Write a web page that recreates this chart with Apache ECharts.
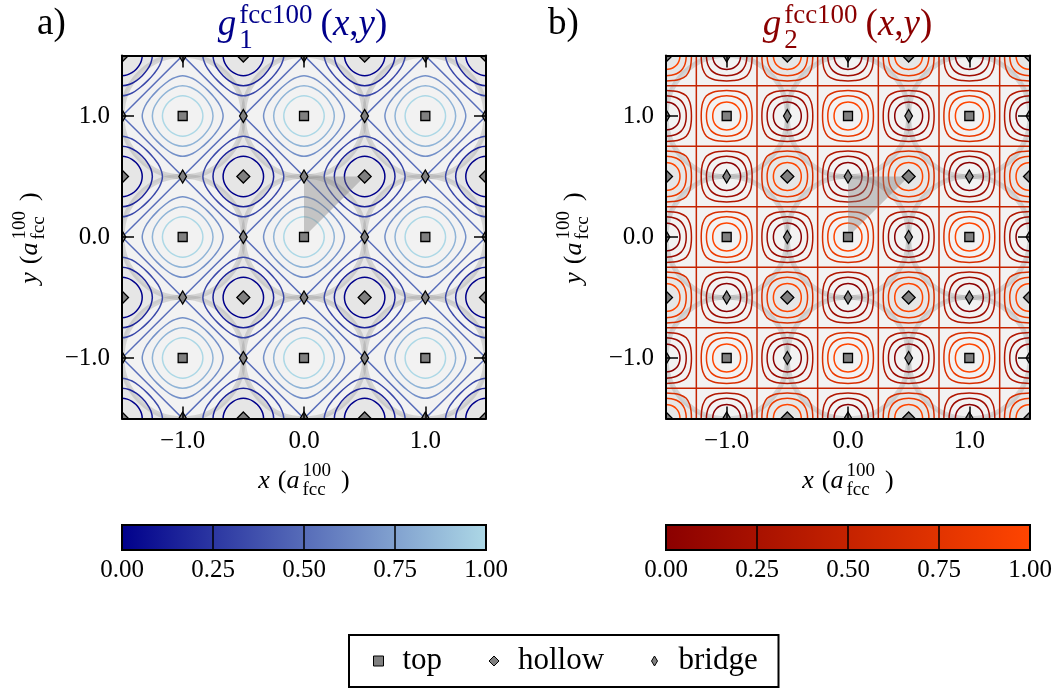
<!DOCTYPE html>
<html><head><meta charset="utf-8">
<script src="https://cdn.jsdelivr.net/npm/echarts@6/dist/echarts.min.js"></script>
<style>html,body{margin:0;padding:0;background:#fff}#c{width:1062px;height:693px}</style>
</head><body><div id="c"></div><script>
// ---------------- data ----------------
const axisRange = [-1.5, 1.5];
const tickValues = [-1, 0, 1];
const tickLabels = ['\u22121.0', '0.0', '1.0'];
const siteWhole = [-1, 0, 1];
const siteHalf = [-1.5, -0.5, 0.5, 1.5];
const wedge = [[0, 0], [0, 0.5], [0.5, 0.5]];
const basinRadius = 0.5;
const levelsLow = [0.125, 0.25, 0.375];
const levelsHigh = [0.875, 0.75, 0.625];
const levelMid = 0.5;
const levelRange = [0.125, 0.875];
const loopAngles = [0, 15, 30, 45];
const radiiA1 = [0.1667, 0.1657, 0.1637, 0.1627];
const radiiA2 = [0.2500, 0.2458, 0.2387, 0.2357];
const radiiA3 = [0.3333, 0.3207, 0.3033, 0.2967];
const radiiB1 = [0.1150, 0.1157, 0.1171, 0.1179];
const radiiB2 = [0.1667, 0.1689, 0.1739, 0.1768];
const radiiB3 = [0.2098, 0.2144, 0.2268, 0.2357];
const diagOffsets = [-2.5, -1.5, -0.5, 0.5, 1.5, 2.5];
const gridOffsets = [-1.25, -0.75, -0.25, 0.25, 0.75, 1.25];
const cmapA = ['#00008b', '#add8e6'];
const cmapB = ['#8b0000', '#ff4500'];
const cbTicks = [0, 0.25, 0.5, 0.75, 1];
const cbLines = [0.25, 0.5, 0.75];
const legendNames = ['top', 'hollow', 'bridge'];

// ---------------- helpers ----------------
const SERIF = 'Liberation Serif';
function hexToRgb(h) { return [1, 3, 5].map(i => parseInt(h.slice(i, i + 2), 16)); }
function mix(cmap, t) {
  const a = hexToRgb(cmap[0]), b = hexToRgb(cmap[1]);
  return 'rgb(' + a.map((v, i) => Math.round(v + (b[i] - v) * t)).join(',') + ')';
}
function levelColor(cmap, lev) { return mix(cmap, (lev - levelRange[0]) / (levelRange[1] - levelRange[0])); }
function product(xs, ys) { const o = []; xs.forEach(x => ys.forEach(y => o.push([x, y]))); return o; }
const topSites = product(siteWhole, siteWhole);
const hollowSites = product(siteHalf, siteHalf);
const bridgeSites = product(siteWhole, siteHalf).concat(product(siteHalf, siteWhole));
function loopItems(sites, levels) {
  const o = []; sites.forEach(s => levels.forEach((lev, k) => o.push([s[0], s[1], k, lev]))); return o;
}
const loopsA = loopItems(topSites, levelsHigh).concat(loopItems(hollowSites, levelsLow));
const loopsB = loopItems(topSites.concat(hollowSites), levelsHigh).concat(loopItems(bridgeSites, levelsLow));
const diagItems = diagOffsets.map(c => [c, 0]).concat(diagOffsets.map(c => [c, 1]));
const gridItems = gridOffsets.map(c => [c, 0]).concat(gridOffsets.map(c => [c, 1]));

function makeLoopRender(radiiSet, cmap) {
  return function (params, api) {
    const cx = api.value(0), cy = api.value(1), k = api.value(2), lev = api.value(3);
    const radii = radiiSet[k], n = loopAngles.length, pts = [];
    for (let q = 0; q < 8; q++) {
      for (let i = 0; i < n - 1; i++) {
        const j = q % 2 === 0 ? i : n - 1 - i;
        const ang = q * 45 + (q % 2 === 0 ? loopAngles[j] : 45 - loopAngles[j]);
        const t = ang * Math.PI / 180, r = radii[j];
        pts.push(api.coord([cx + r * Math.cos(t), cy + r * Math.sin(t)]));
      }
    }
    return { type: 'polygon', shape: { points: pts, smooth: 0.34 },
      style: { fill: 'none', stroke: levelColor(cmap, lev), lineWidth: 1.5 } };
  };
}
function diagRender(cmap) {
  return function (params, api) {
    const c = api.value(0), d = api.value(1);
    const p1 = d === 0 ? api.coord([-3, c + 3]) : api.coord([-3, -3 - c]);
    const p2 = d === 0 ? api.coord([3, c - 3]) : api.coord([3, 3 - c]);
    return { type: 'line', shape: { x1: p1[0], y1: p1[1], x2: p2[0], y2: p2[1] },
      style: { stroke: levelColor(cmap, levelMid), lineWidth: 1.5 } };
  };
}
function gridRender(cmap) {
  return function (params, api) {
    const c = api.value(0), d = api.value(1);
    const p1 = d === 0 ? api.coord([c, -3]) : api.coord([-3, c]);
    const p2 = d === 0 ? api.coord([c, 3]) : api.coord([3, c]);
    return { type: 'line', shape: { x1: p1[0], y1: p1[1], x2: p2[0], y2: p2[1] },
      style: { stroke: levelColor(cmap, levelMid), lineWidth: 1.5 } };
  };
}
const markerStyle = { fill: '#808080', stroke: '#000', lineWidth: 1.3 };
function markerRender(kind) {
  return function (params, api) {
    const p = api.coord([api.value(0), api.value(1)]);
    if (kind === 'top') return { type: 'rect', shape: { x: p[0] - 4.5, y: p[1] - 4.5, width: 9, height: 9 }, style: markerStyle };
    const hw = kind === 'hollow' ? 6.5 : 3.8, hh = 6.5;
    return { type: 'polygon', shape: { points: [[p[0], p[1] - hh], [p[0] + hw, p[1]], [p[0], p[1] + hh], [p[0] - hw, p[1]]] }, style: markerStyle };
  };
}

function panelSeries(ax, loops, radiiSet, cmap, lineItems, lineRender) {
  const base = { type: 'custom', xAxisIndex: ax, yAxisIndex: ax, clip: true, silent: true, animation: false };
  return [
    Object.assign({}, base, { data: [[axisRange[0], axisRange[1]]], renderItem: (p, api) => {
      const a = api.coord([axisRange[0], axisRange[1]]), b = api.coord([axisRange[1], axisRange[0]]);
      return { type: 'rect', shape: { x: a[0], y: a[1], width: b[0] - a[0], height: b[1] - a[1] }, style: { fill: '#e6e6e6' } };
    } }),
    Object.assign({}, base, { data: topSites, renderItem: (p, api) => {
      const c = api.coord([api.value(0), api.value(1)]), r = api.size([basinRadius, 0])[0];
      return { type: 'circle', shape: { cx: c[0], cy: c[1], r: r }, style: { fill: '#f2f2f2' } };
    } }),
    Object.assign({}, base, { data: topSites, renderItem: (p, api) => {
      const c = api.coord([api.value(0), api.value(1)]), r = api.size([basinRadius, 0])[0];
      return { type: 'circle', shape: { cx: c[0], cy: c[1], r: r }, style: { fill: 'none', stroke: 'rgba(150,150,150,0.32)', lineWidth: 5 } };
    } }),
    Object.assign({}, base, { data: lineItems, renderItem: lineRender(cmap) }),
    Object.assign({}, base, { data: loops, renderItem: makeLoopRender(radiiSet, cmap) }),
    Object.assign({}, base, { data: [wedge.flat()], renderItem: (p, api) => {
      const pts = [0, 1, 2].map(i => api.coord([api.value(2 * i), api.value(2 * i + 1)]));
      return { type: 'polygon', shape: { points: pts }, style: { fill: 'rgba(128,128,128,0.4)' } };
    } }),
    Object.assign({}, base, { name: 'top', data: topSites, renderItem: markerRender('top'), itemStyle: { color: '#808080' } }),
    Object.assign({}, base, { name: 'hollow', data: hollowSites, renderItem: markerRender('hollow'), itemStyle: { color: '#808080' } }),
    Object.assign({}, base, { name: 'bridge', data: bridgeSites, renderItem: markerRender('bridge'), itemStyle: { color: '#808080' } })
  ];
}
function colorbarSeries(ax, cmap) {
  const base = { type: 'custom', xAxisIndex: ax, yAxisIndex: ax, silent: true, animation: false };
  return [
    Object.assign({}, base, { data: [[cbTicks[0], 1]], renderItem: (p, api) => {
      const a = api.coord([cbTicks[0], 1]), b = api.coord([cbTicks[cbTicks.length - 1], 0]);
      return { type: 'rect', shape: { x: a[0], y: a[1], width: b[0] - a[0], height: b[1] - a[1] },
        style: { fill: new echarts.graphic.LinearGradient(0, 0, 1, 0, [{ offset: 0, color: cmap[0] }, { offset: 1, color: cmap[1] }]), stroke: '#000', lineWidth: 2 } };
    } }),
    Object.assign({}, base, { data: cbLines.map(v => [v, 0]), renderItem: (p, api) => {
      const a = api.coord([api.value(0), 0]), b = api.coord([api.value(0), 1]);
      return { type: 'line', shape: { x1: a[0], y1: a[1], x2: b[0], y2: b[1] }, style: { stroke: '#000', lineWidth: 1.5 } };
    } })
  ];
}

// ---------------- axes ----------------
const tickFmt = v => { const i = tickValues.indexOf(v); return i >= 0 ? tickLabels[i] : ''; };
function plotAxis(kind, gridIndex, position, labels) {
  return {
    type: 'value', gridIndex, position, min: axisRange[0], max: axisRange[1], z: 20,
    axisLine: { show: true, onZero: false, lineStyle: { color: '#000', width: 2 } },
    axisTick: { show: true, inside: true, length: 12, customValues: tickValues, lineStyle: { color: '#000', width: 1.5 } },
    axisLabel: { show: labels, customValues: tickValues, formatter: tickFmt, fontFamily: SERIF, fontSize: 25, color: '#000', margin: kind === 'x' ? 10 : 12 },
    splitLine: { show: false }
  };
}
function cbAxisX(gridIndex) {
  return { type: 'value', gridIndex, min: cbTicks[0], max: cbTicks[cbTicks.length - 1], interval: 0.25,
    axisLine: { show: false }, axisTick: { show: false }, splitLine: { show: false },
    axisLabel: { formatter: v => v.toFixed(2), fontFamily: SERIF, fontSize: 25, color: '#000', margin: 8 } };
}
function cbAxisY(gridIndex) { return { type: 'value', gridIndex, min: 0, max: 1, show: false }; }

// ---------------- math-style text ----------------
const mctx = document.createElement('canvas').getContext('2d');
function tw(t, size, it) { mctx.font = (it ? 'italic ' : '') + size + 'px "' + SERIF + '"'; return mctx.measureText(t).width; }
function mathGroup(parts, o) {
  const items = []; let x = 0;
  parts.forEach(p => {
    if (p.t !== undefined) {
      items.push({ t: p.t, size: o.size, it: !!p.it, x: x, base: 0 });
      x += tw(p.t, o.size, !!p.it) + (p.after || 0);
    } else {
      const sx = x + (p.kern || 0);
      const w1 = p.sup ? tw(p.sup, o.ss, false) : 0, w2 = p.sub ? tw(p.sub, o.ss, false) : 0;
      if (p.sup) items.push({ t: p.sup, size: o.ss, it: false, x: sx, base: -o.raise });
      if (p.sub) items.push({ t: p.sub, size: o.ss, it: false, x: sx, base: o.drop });
      x = sx + Math.max(w1, w2) + (p.after || 0);
    }
  });
  const off = o.align === 'left' ? 0 : -x / 2;
  return { type: 'group', x: o.x, y: o.y, rotation: o.rotation || 0, silent: true,
    children: items.map(it => ({ type: 'text', x: it.x + off, y: it.base - 0.33 * it.size,
      style: { text: it.t, fontSize: it.size, fontFamily: SERIF, fontStyle: it.it ? 'italic' : 'normal', fill: o.color || '#000',
        align: 'left', verticalAlign: 'middle', textAlign: 'left', textVerticalAlign: 'middle' } })) };
}
const titleParts = sub => [{ t: 'g', it: true }, { sup: 'fcc100', sub: sub, kern: 3, after: 8 }, { t: '(' }, { t: 'x', it: true }, { t: ',' }, { t: 'y', it: true }, { t: ')' }];
const axisParts = v => [{ t: v, it: true, after: 8 }, { t: '(' }, { t: 'a', it: true }, { sup: '100', sub: 'fcc', kern: 3, after: 10 }, { t: ')' }];
const graphics = [
  mathGroup([{ t: 'a)' }], { x: 37, y: 36, size: 37, ss: 24, align: 'left' }),
  mathGroup([{ t: 'b)' }], { x: 548, y: 36, size: 37, ss: 24, align: 'left' }),
  mathGroup(titleParts('1'), { x: 302.5, y: 37, size: 37, ss: 27, raise: 12, drop: 13, color: '#00008b' }),
  mathGroup(titleParts('2'), { x: 847.5, y: 37, size: 37, ss: 27, raise: 12, drop: 13, color: '#8b0000' }),
  mathGroup(axisParts('x'), { x: 304, y: 490, size: 26, ss: 19, raise: 13, drop: 6 }),
  mathGroup(axisParts('x'), { x: 848, y: 490, size: 26, ss: 19, raise: 13, drop: 6 }),
  mathGroup(axisParts('y'), { x: 39, y: 238, size: 26, ss: 19, raise: 13, drop: 6, rotation: Math.PI / 2 }),
  mathGroup(axisParts('y'), { x: 583, y: 238, size: 26, ss: 19, raise: 13, drop: 6, rotation: Math.PI / 2 })
];

const legendIcons = ['rect', 'diamond', 'path://M3,0L6,5L3,10L0,5Z'];
const legendWidths = [76, 123, 80];

const option = {
  animation: false,
  backgroundColor: '#fff',
  grid: [
    { left: 122, top: 55.5, width: 364, height: 363, outerBoundsMode: 'none' },
    { left: 666, top: 55.5, width: 364, height: 363, outerBoundsMode: 'none' },
    { left: 122, top: 525, width: 364, height: 25, outerBoundsMode: 'none' },
    { left: 666, top: 525, width: 364, height: 25, outerBoundsMode: 'none' }
  ],
  xAxis: [plotAxis('x', 0, 'bottom', true), plotAxis('x', 0, 'top', false), plotAxis('x', 1, 'bottom', true), plotAxis('x', 1, 'top', false), cbAxisX(2), cbAxisX(3)],
  yAxis: [plotAxis('y', 0, 'left', true), plotAxis('y', 0, 'right', false), plotAxis('y', 1, 'left', true), plotAxis('y', 1, 'right', false), cbAxisY(2), cbAxisY(3)],
  legend: {
    left: 349, top: 635, orient: 'horizontal', selectedMode: false,
    padding: [8, 20, 8, 24], itemGap: 10, itemWidth: 10, itemHeight: 10,
    borderColor: '#000', borderWidth: 2, borderRadius: 0, backgroundColor: '#fff',
    textStyle: { fontFamily: SERIF, fontSize: 31, color: '#000', lineHeight: 36, padding: [0, 0, 0, 14] },
    data: legendNames.map((n, i) => ({ name: n, icon: legendIcons[i],
      itemStyle: { color: '#808080', borderColor: '#000', borderWidth: 1 }, textStyle: { width: legendWidths[i] } }))
  },
  graphic: graphics,
  series: [].concat(
    panelSeries(0, loopsA, [radiiA1, radiiA2, radiiA3], cmapA, diagItems, diagRender),
    panelSeries(2, loopsB, [radiiB1, radiiB2, radiiB3], cmapB, gridItems, gridRender),
    colorbarSeries(4, cmapA),
    colorbarSeries(5, cmapB)
  )
};
const chart = echarts.init(document.getElementById('c'), null, { renderer: 'canvas' });
chart.setOption(option);
</script></body></html>
